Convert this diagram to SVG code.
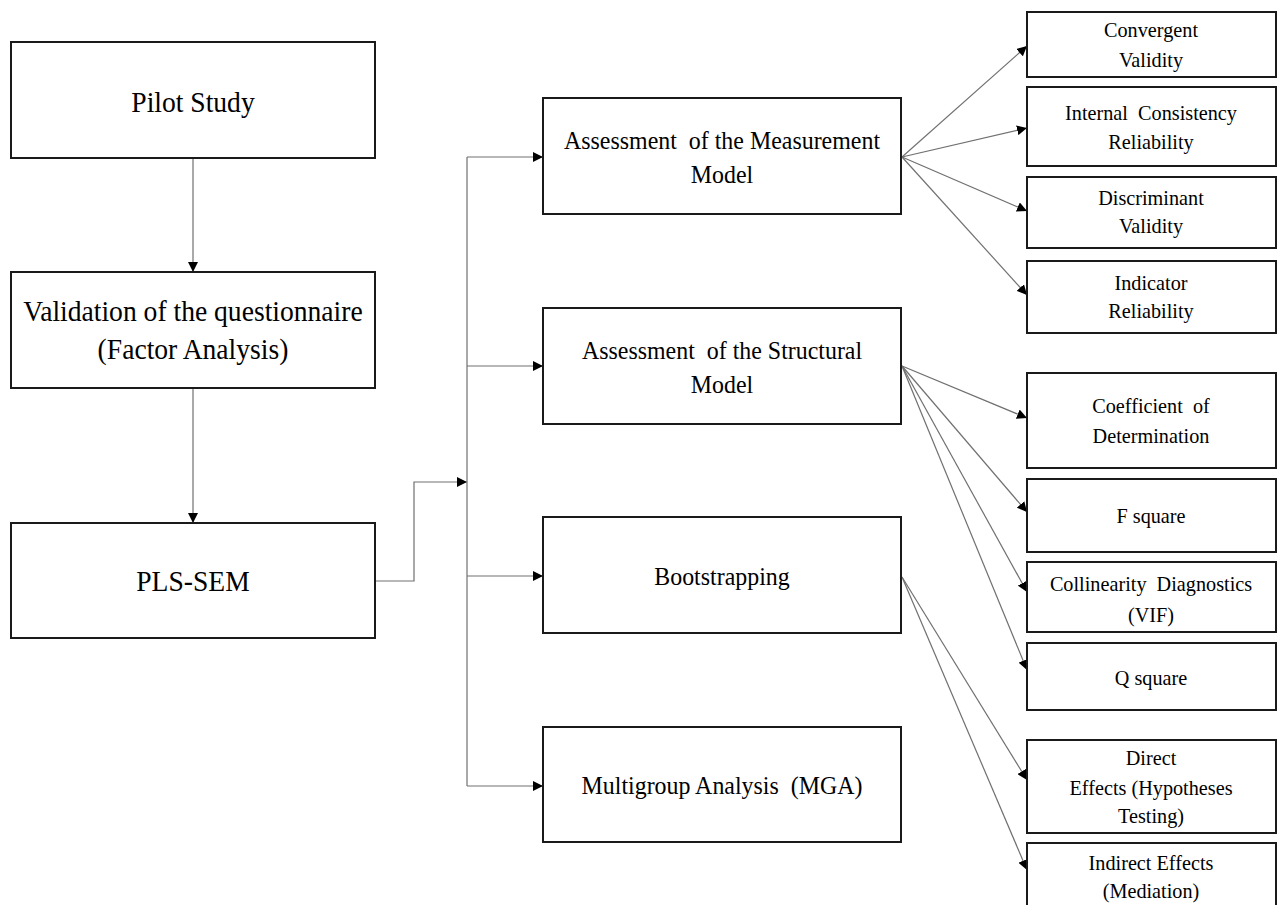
<svg xmlns="http://www.w3.org/2000/svg" width="1278" height="905" viewBox="0 0 1278 905">
<style>
.box{fill:#fff;stroke:#1a1a1a;stroke-width:2}
.t{font-family:"Liberation Serif","Times New Roman",serif;fill:#000;text-anchor:middle}
.l{font-size:30px}
.m{font-size:26px}
.s{font-size:22px}
.c{fill:none;stroke:#707070;stroke-width:1.2}
</style>
<defs>
<marker id="ah" viewBox="0 0 10 10" refX="10" refY="5" markerWidth="10" markerHeight="10" markerUnits="userSpaceOnUse" orient="auto">
<path d="M0,0 L10,5 L0,10 z" fill="#000"/>
</marker>
</defs>
<rect width="1278" height="905" fill="#fff"/>
<g id="connectors">
<path class="c" d="M193,158 V272" marker-end="url(#ah)"/>
<path class="c" d="M193,388 V523" marker-end="url(#ah)"/>
<path class="c" d="M375,581 H414 V482 H467" marker-end="url(#ah)"/>
<path class="c" d="M467,157 V786"/>
<path class="c" d="M467,157 H543" marker-end="url(#ah)"/>
<path class="c" d="M467,366 H543" marker-end="url(#ah)"/>
<path class="c" d="M467,576 H543" marker-end="url(#ah)"/>
<path class="c" d="M467,786 H543" marker-end="url(#ah)"/>
<path class="c" d="M902,157 L1027,46" marker-end="url(#ah)"/>
<path class="c" d="M902,157 L1027,128" marker-end="url(#ah)"/>
<path class="c" d="M902,157 L1027,211" marker-end="url(#ah)"/>
<path class="c" d="M902,157 L1027,295" marker-end="url(#ah)"/>
<path class="c" d="M902,366 L1027,418" marker-end="url(#ah)"/>
<path class="c" d="M902,366 L1027,512" marker-end="url(#ah)"/>
<path class="c" d="M902,366 L1027,592" marker-end="url(#ah)"/>
<path class="c" d="M902,366 L1027,670" marker-end="url(#ah)"/>
<path class="c" d="M902,577 L1027,780" marker-end="url(#ah)"/>
<path class="c" d="M902,577 L1027,870" marker-end="url(#ah)"/>
</g>
<g id="pilot"><rect class="box" x="11" y="42" width="364" height="116"/><text class="t l" transform="translate(193,112) scale(0.92,1)">Pilot Study</text></g>
<g id="validation"><rect class="box" x="11" y="272" width="364" height="116"/><text class="t l" transform="translate(193,321) scale(0.92,1)">Validation of the questionnaire</text><text class="t l" transform="translate(193,359) scale(0.92,1)">(Factor Analysis)</text></g>
<g id="plssem"><rect class="box" x="11" y="523" width="364" height="115"/><text class="t l" transform="translate(193,591) scale(0.92,1)">PLS-SEM</text></g>
<g id="measurement"><rect class="box" x="543" y="98" width="358" height="116"/><text class="t m" transform="translate(722,149) scale(0.92,1)" xml:space="preserve">Assessment  of the Measurement</text><text class="t m" transform="translate(722,183) scale(0.92,1)">Model</text></g>
<g id="structural"><rect class="box" x="543" y="308" width="358" height="116"/><text class="t m" transform="translate(722,359) scale(0.92,1)" xml:space="preserve">Assessment  of the Structural</text><text class="t m" transform="translate(722,393) scale(0.92,1)">Model</text></g>
<g id="bootstrapping"><rect class="box" x="543" y="517" width="358" height="116"/><text class="t m" transform="translate(722,585) scale(0.92,1)">Bootstrapping</text></g>
<g id="mga"><rect class="box" x="543" y="727" width="358" height="115"/><text class="t m" transform="translate(722,794) scale(0.92,1)" xml:space="preserve">Multigroup Analysis  (MGA)</text></g>
<g id="convergent"><rect class="box" x="1027" y="12" width="249" height="65"/><text class="t s" transform="translate(1151,37) scale(0.92,1)">Convergent</text><text class="t s" transform="translate(1151,67) scale(0.92,1)">Validity</text></g>
<g id="internal"><rect class="box" x="1027" y="87" width="249" height="79"/><text class="t s" transform="translate(1151,120) scale(0.92,1)" xml:space="preserve">Internal  Consistency</text><text class="t s" transform="translate(1151,149) scale(0.92,1)">Reliability</text></g>
<g id="discriminant"><rect class="box" x="1027" y="177" width="249" height="71"/><text class="t s" transform="translate(1151,205) scale(0.92,1)">Discriminant</text><text class="t s" transform="translate(1151,233) scale(0.92,1)">Validity</text></g>
<g id="indicator"><rect class="box" x="1027" y="261" width="249" height="72"/><text class="t s" transform="translate(1151,290) scale(0.92,1)">Indicator</text><text class="t s" transform="translate(1151,318) scale(0.92,1)">Reliability</text></g>
<g id="coefficient"><rect class="box" x="1027" y="373" width="249" height="95"/><text class="t s" transform="translate(1151,413) scale(0.92,1)" xml:space="preserve">Coefficient  of</text><text class="t s" transform="translate(1151,443) scale(0.92,1)">Determination</text></g>
<g id="fsquare"><rect class="box" x="1027" y="479" width="249" height="73"/><text class="t s" transform="translate(1151,523) scale(0.92,1)">F square</text></g>
<g id="collinearity"><rect class="box" x="1027" y="562" width="249" height="70"/><text class="t s" transform="translate(1151,591) scale(0.92,1)" xml:space="preserve">Collinearity  Diagnostics</text><text class="t s" transform="translate(1151,622) scale(0.92,1)">(VIF)</text></g>
<g id="qsquare"><rect class="box" x="1027" y="643" width="249" height="67"/><text class="t s" transform="translate(1151,685) scale(0.92,1)">Q square</text></g>
<g id="direct"><rect class="box" x="1027" y="740" width="249" height="93"/><text class="t s" transform="translate(1151,765) scale(0.92,1)">Direct</text><text class="t s" transform="translate(1151,795) scale(0.92,1)">Effects (Hypotheses</text><text class="t s" transform="translate(1151,823) scale(0.92,1)">Testing)</text></g>
<g id="indirect"><rect class="box" x="1027" y="843" width="249" height="70"/><text class="t s" transform="translate(1151,870) scale(0.92,1)">Indirect Effects</text><text class="t s" transform="translate(1151,898) scale(0.92,1)">(Mediation)</text></g>
</svg>
